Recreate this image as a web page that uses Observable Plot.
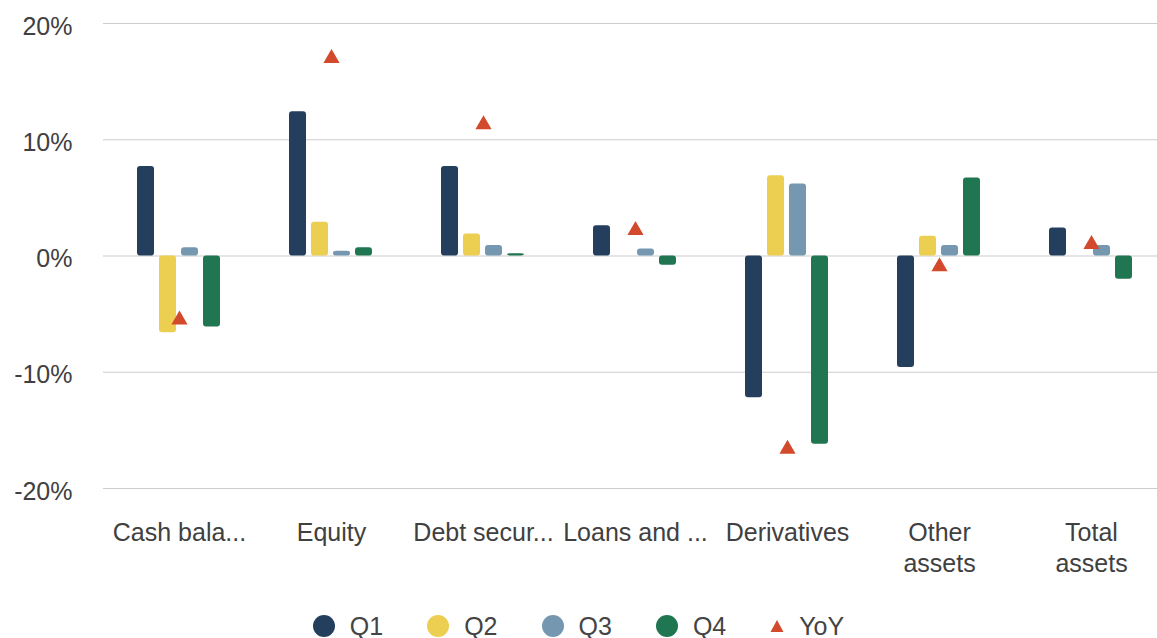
<!DOCTYPE html>
<html>
<head>
<meta charset="utf-8">
<script src="https://cdn.jsdelivr.net/npm/d3@7"></script>
<script src="https://cdn.jsdelivr.net/npm/@observablehq/plot@0.6"></script>
<style>
  html, body { margin: 0; padding: 0; background: white; overflow: hidden; }
  #chart svg { display: block; }
  #legend {
    display: flex; justify-content: center; align-items: center;
    height: 52px; font-family: "Liberation Sans", Arial, sans-serif;
    font-size: 25px; color: #444;
  }
  .item { display: flex; align-items: center; margin: 0 22px; }
  .item svg { margin-right: 15px; }
</style>
</head>
<body>
<div id="chart"></div>
<div id="legend"></div>
<script>
const categories = ["Cash bala...", "Equity", "Debt secur...", "Loans and ...", "Derivatives", "Other assets", "Total assets"];
const tickLabels = ["Cash bala...", "Equity", "Debt secur...", "Loans and ...", "Derivatives", "Other\nassets", "Total\nassets"];
const seriesNames = ["Q1", "Q2", "Q3", "Q4"];
const q1 = [7.7, 12.4, 7.7, 2.6, -12.2, -9.6, 2.4];
const q2 = [-6.6, 2.9, 1.9, 0, 6.9, 1.7, 0];
const q3 = [0.7, 0.4, 0.9, 0.6, 6.2, 0.9, 0.9];
const q4 = [-6.1, 0.7, 0.2, -0.8, -16.2, 6.7, -2.0];
const yoy = [-5.5, 17.0, 11.3, 2.2, -16.6, -0.9, 1.0];
const yTicks = [-20, -10, 0, 10, 20];
const seriesColors = ["#243e5e", "#ecce50", "#7598b0", "#1f7650"];
const yoyColor = "#d24a2b";

const seriesValues = [q1, q2, q3, q4];
const bars = [];
categories.forEach((c, i) => {
  seriesNames.forEach((s, j) => bars.push({category: c, series: s, value: seriesValues[j][i]}));
});
const yoyData = categories.map((c, i) => ({category: c, value: yoy[i]}));

const font = "'Liberation Sans', Arial, sans-serif";

const chart = Plot.plot({
  width: 1157,
  height: 600,
  marginTop: 23,
  marginBottom: 112,
  marginLeft: 101,
  marginRight: -12,
  style: {fontFamily: font, fontSize: "25px", color: "#404040", background: "white"},
  fx: {domain: categories, padding: 0, axis: null},
  x: {domain: seriesNames, paddingInner: 0.22, paddingOuter: 1.42, axis: null},
  y: {domain: [-20, 20], axis: null},
  color: {domain: seriesNames, range: seriesColors},
  marks: [
    Plot.gridY(yTicks, {stroke: "#cccccc", strokeOpacity: 1, strokeWidth: 1.2}),
    Plot.axisY({ticks: yTicks, tickSize: 0, tickPadding: 31, dy: 3, tickFormat: d => d + "%", fontSize: 25, label: null}),
    Plot.axisFx({anchor: "bottom", tickSize: 0, tickPadding: 30, fontSize: 25, lineHeight: 1.24, label: null,
      tickFormat: d => tickLabels[categories.indexOf(d)]}),
    Plot.barY(bars, {fx: "category", x: "series", y: "value", fill: "series", rx: 3}),
    Plot.dot(yoyData, {fx: "category", y: "value", symbol: "triangle", r: 6, fill: yoyColor, stroke: "none"})
  ]
});
document.getElementById("chart").appendChild(chart);

// Legend
const legend = document.getElementById("legend");
seriesNames.forEach((s, i) => {
  const it = document.createElement("div");
  it.className = "item";
  it.innerHTML = `<svg width="22" height="22"><circle cx="11" cy="11" r="11" fill="${seriesColors[i]}"/></svg><span>${s}</span>`;
  legend.appendChild(it);
});
const yi = document.createElement("div");
yi.className = "item";
yi.innerHTML = `<svg width="14" height="14"><path d="M7,1 L13.5,13 L0.5,13 Z" fill="${yoyColor}"/></svg><span>YoY</span>`;
legend.appendChild(yi);
</script>
</body>
</html>
